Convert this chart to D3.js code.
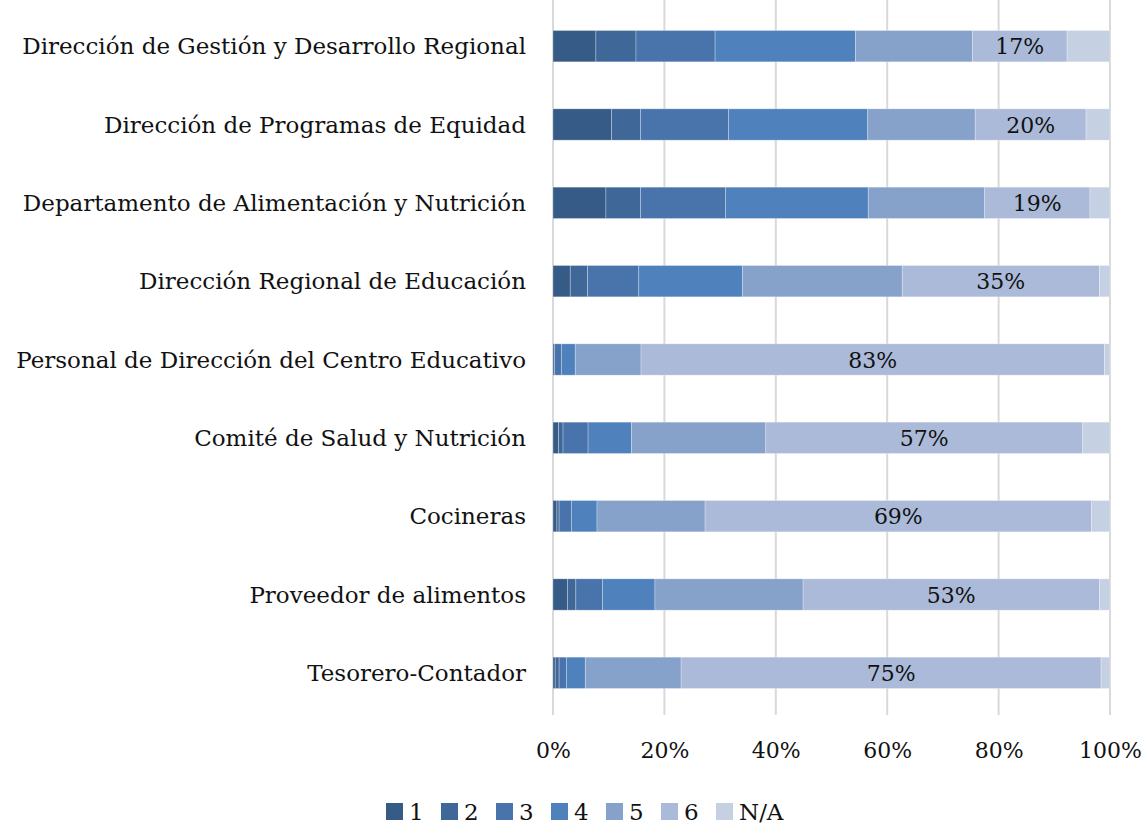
<!DOCTYPE html>
<html>
<head>
<meta charset="utf-8">
<script src="https://cdn.jsdelivr.net/npm/d3@7"></script>
<style>
  html, body { margin: 0; padding: 0; background: #fff; }
  svg text { font-family: "DejaVu Serif", "Liberation Serif", serif; fill: #111; }
</style>
</head>
<body>
<svg id="chart" width="1146" height="824"></svg>
<script>
const categories = [
  "Dirección de Gestión y Desarrollo Regional",
  "Dirección de Programas de Equidad",
  "Departamento de Alimentación y Nutrición",
  "Dirección Regional de Educación",
  "Personal de Dirección del Centro Educativo",
  "Comité de Salud y Nutrición",
  "Cocineras",
  "Proveedor de alimentos",
  "Tesorero-Contador"
];
const seriesNames = ["1", "2", "3", "4", "5", "6", "N/A"];
const s1  = [7.7, 10.5, 9.5, 3.1, 0.0, 1.0, 0.7, 2.6, 0.4];
const s2  = [7.2, 5.2, 6.2, 3.1, 0.3, 0.8, 0.4, 1.5, 0.7];
const s3  = [14.2, 15.8, 15.3, 9.2, 1.2, 4.5, 2.2, 4.8, 1.3];
const s4  = [25.2, 25.0, 25.6, 18.6, 2.5, 7.8, 4.6, 9.4, 3.4];
const s5  = [21.0, 19.3, 20.9, 28.7, 11.8, 24.1, 19.4, 26.6, 17.2];
const s6  = [17.0, 19.9, 18.9, 35.4, 83.2, 56.9, 69.4, 53.2, 75.4];
const sNA = [7.7, 4.3, 3.6, 1.9, 1.0, 4.9, 3.3, 1.9, 1.6];
const dataLabels = ["17%", "20%", "19%", "35%", "83%", "57%", "69%", "53%", "75%"];
const tickValues = [0, 20, 40, 60, 80, 100];
const colors = ["#365b87", "#3f6899", "#4874ab", "#4f81bd", "#86a1ca", "#abbad8", "#c5d0e3"];

const allSeries = [s1, s2, s3, s4, s5, s6, sNA];
const rows = categories.map((c, i) => {
  const r = { cat: c, label: dataLabels[i] };
  seriesNames.forEach((k, j) => r[k] = allSeries[j][i]);
  return r;
});

const svg = d3.select("#chart");
const x = d3.scaleLinear().domain([0, 100]).range([553, 1110]);
const y = d3.scaleBand().domain(categories).range([7, 712]).paddingInner(0.6).paddingOuter(0.3);

// gridlines
svg.append("g").selectAll("line").data(tickValues).join("line")
  .attr("x1", d => x(d)).attr("x2", d => x(d))
  .attr("y1", 0).attr("y2", 715)
  .attr("stroke", "#d9d9d9").attr("stroke-width", 2);

const stack = d3.stack().keys(seriesNames);
const stacked = stack(rows);

const g = svg.append("g");
stacked.forEach((layer, j) => {
  g.append("g").attr("fill", colors[j]).selectAll("rect").data(layer).join("rect")
    .attr("x", d => x(d[0]))
    .attr("width", d => Math.max(0, x(d[1]) - x(d[0])))
    .attr("y", d => y(d.data.cat))
    .attr("height", y.bandwidth())
    .attr("stroke", "#ffffff").attr("stroke-opacity", 0.35).attr("stroke-width", 0.8);
});

// data labels on series 6
const l6 = stacked[5];
svg.append("g").selectAll("text").data(l6).join("text")
  .attr("x", d => x((d[0] + d[1]) / 2))
  .attr("y", d => y(d.data.cat) + y.bandwidth() / 2 + 8)
  .attr("text-anchor", "middle")
  .attr("font-size", 22)
  .text(d => d.data.label);

// category labels
svg.append("g").selectAll("text").data(categories).join("text")
  .attr("x", 526)
  .attr("y", d => y(d) + y.bandwidth() / 2 + 8)
  .attr("text-anchor", "end")
  .attr("font-size", 23)
  .text(d => d);

// x axis tick labels
const xAxis = d3.axisBottom(x).tickValues(tickValues).tickFormat(d => d + "%").tickSize(0).tickPadding(0);
const ax = svg.append("g").attr("transform", "translate(0,742)").call(xAxis);
ax.select(".domain").remove();
ax.selectAll("text").attr("font-size", 22).attr("font-family", "DejaVu Serif").attr("fill", "#111");

// legend
const leg = svg.append("g");
seriesNames.forEach((k, j) => {
  const lx = 386 + j * 55;
  leg.append("rect").attr("x", lx).attr("y", 803).attr("width", 17).attr("height", 17).attr("fill", colors[j]);
  leg.append("text").attr("x", lx + 23).attr("y", 820).attr("font-size", 23).text(k);
});
</script>
</body>
</html>
